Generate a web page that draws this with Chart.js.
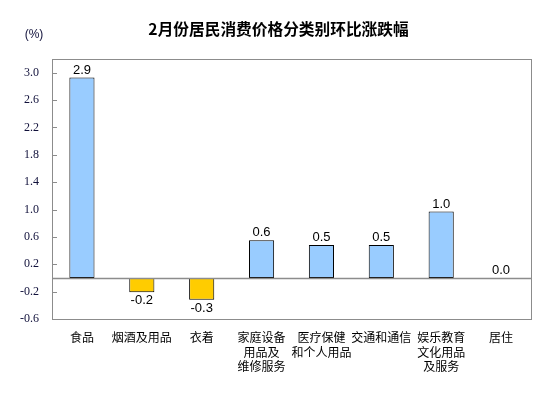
<!DOCTYPE html>
<html lang="zh">
<head>
  <meta charset="UTF-8" />
  <title>2月份居民消费价格分类别环比涨跌幅</title>
  <script src="https://cdn.jsdelivr.net/npm/chart.js@4.4.3/dist/chart.umd.min.js"></script>
  <style>
    html, body { margin: 0; padding: 0; background: #fff; }
    #wrap { width: 554px; height: 398px; position: relative; }
  </style>
</head>
<body>
  <div id="wrap"><canvas id="cpi"></canvas></div>

  <script>
    const chartTitle = '2月份居民消费价格分类别环比涨跌幅';
    // 分类名称（多行）
    const categories = [
      ['食品'],
      ['烟酒及用品'],
      ['衣着'],
      ['家庭设备', '用品及', '维修服务'],
      ['医疗保健', '和个人用品'],
      ['交通和通信'],
      ['娱乐教育', '文化用品', '及服务'],
      ['居住']
    ];
    // 柱高
    const values = [2.93, -0.21, -0.32, 0.55, 0.48, 0.48, 0.97, 0];
    // 柱上标注
    const valueLabels = ['2.9', '-0.2', '-0.3', '0.6', '0.5', '0.5', '1.0', '0.0'];
    // 纵轴刻度
    const yTicks = [-0.6, -0.2, 0.2, 0.6, 1.0, 1.4, 1.8, 2.2, 2.6, 3.0];

    const blue = '#99CCFF';
    const yellow = '#FFCC00';
    const axisGray = '#8c8c8c';
    const navy = '#10103a';

    // 标题、边框、零线、刻度、数值标签、(%)
    const decor = {
      id: 'decor',
      afterDatasetsDraw(chart) {
        const ctx = chart.ctx;
        const a = chart.chartArea;
        const y = chart.scales.y;
        ctx.save();
        ctx.strokeStyle = axisGray;
        ctx.lineWidth = 1;
        ctx.strokeRect(Math.round(a.left) + 0.5, Math.round(a.top) + 0.5,
          Math.round(a.right - a.left), Math.round(a.bottom - a.top));
        // 零线
        const y0 = Math.round(y.getPixelForValue(0)) + 0.5;
        ctx.lineWidth = 1.5;
        ctx.beginPath();
        ctx.moveTo(a.left, y0);
        ctx.lineTo(a.right, y0);
        ctx.stroke();
        // 内向刻度
        ctx.lineWidth = 1;
        yTicks.forEach(v => {
          const py = Math.round(y.getPixelForValue(v)) + 0.5;
          ctx.beginPath();
          ctx.moveTo(a.left, py);
          ctx.lineTo(a.left + 5, py);
          ctx.stroke();
        });
        // 数值标签
        const meta = chart.getDatasetMeta(0);
        ctx.fillStyle = '#000';
        ctx.font = '13px "Liberation Sans", Arial, sans-serif';
        ctx.textAlign = 'center';
        meta.data.forEach((bar, i) => {
          if (values[i] < 0) {
            ctx.textBaseline = 'top';
            ctx.fillText(valueLabels[i], bar.x, bar.y + 2);
          } else {
            ctx.textBaseline = 'bottom';
            ctx.fillText(valueLabels[i], bar.x, bar.y - 1);
          }
        });
        // 标题
        ctx.font = 'bold 15.7px "Noto Sans CJK SC", sans-serif';
        ctx.textBaseline = 'middle';
        ctx.fillText(chartTitle, 278.5, 29);
        // (%)
        ctx.fillStyle = navy;
        ctx.font = '12px "Liberation Sans", Arial, sans-serif';
        ctx.fillText('(%)', 34, 35);
        ctx.restore();
      }
    };

    new Chart(document.getElementById('cpi'), {
      type: 'bar',
      data: {
        labels: categories,
        datasets: [{
          data: values,
          backgroundColor: values.map(v => v < 0 ? yellow : blue),
          borderColor: '#000',
          borderWidth: values.map(v => v === 0 ? 0 : 1),
          borderSkipped: false,
          categoryPercentage: 1,
          barPercentage: 0.42
        }]
      },
      options: {
        responsive: true,
        maintainAspectRatio: false,
        animation: false,
        layout: { padding: { top: 59, left: 0, right: 23, bottom: 0 } },
        plugins: {
          legend: { display: false },
          tooltip: { enabled: false },
          title: { display: false }
        },
        scales: {
          x: {
            grid: { display: false },
            border: { display: false },
            ticks: {
              color: '#000',
              autoSkip: false,
              maxRotation: 0,
              minRotation: 0,
              padding: 3,
              font: { size: 12, family: '"Noto Sans CJK SC", sans-serif', lineHeight: 1.22 }
            },
            afterFit: s => { s.height = 79; }
          },
          y: {
            min: -0.6,
            max: 3.2,
            grid: { display: false, drawTicks: false },
            border: { display: false },
            afterBuildTicks: s => { s.ticks = yTicks.map(v => ({ value: v })); },
            ticks: {
              color: navy,
              padding: 13,
              font: { size: 12, family: '"Liberation Serif", "Times New Roman", serif' },
              callback: v => v.toFixed(1)
            },
            afterFit: s => { s.width = 52; }
          }
        }
      },
      plugins: [decor]
    });
  </script>
</body>
</html>
